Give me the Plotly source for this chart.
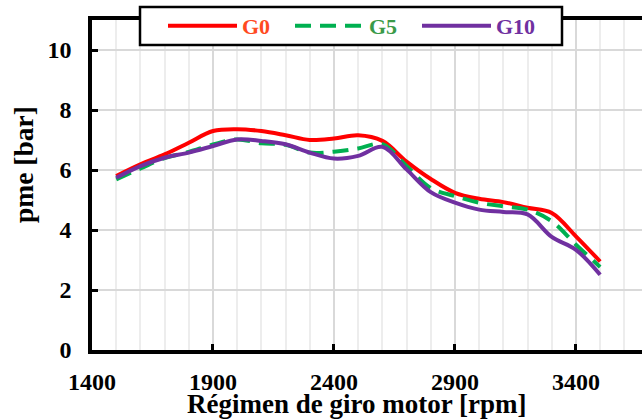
import plotly.graph_objects as go

rpm = [1500, 1600, 1700, 1800, 1900, 2000, 2100, 2200, 2300, 2400, 2500,
       2600, 2700, 2800, 2900, 3000, 3100, 3200, 3300, 3400, 3500]
g0 = [5.80, 6.19, 6.52, 6.91, 7.30, 7.36, 7.30, 7.16, 7.00, 7.05, 7.16,
      6.97, 6.28, 5.70, 5.24, 5.04, 4.93, 4.74, 4.57, 3.79, 2.95]
g5 = [5.69, 6.05, 6.40, 6.60, 6.85, 7.02, 6.89, 6.84, 6.58, 6.61, 6.72,
      6.86, 6.13, 5.40, 5.13, 4.91, 4.79, 4.68, 4.29, 3.51, 2.77]
g10 = [5.74, 6.13, 6.41, 6.58, 6.80, 7.02, 6.97, 6.86, 6.58, 6.38, 6.47,
       6.77, 6.02, 5.26, 4.91, 4.68, 4.60, 4.52, 3.77, 3.34, 2.51]

x_ticks = [1400, 1900, 2400, 2900, 3400]
y_ticks = [0, 2, 4, 6, 8, 10]

FONT = "Liberation Serif"
L, T, B = 92, 20, 350          # plot area pixel edges
PW, PH = 642 - L, B - T


def px(x):
    return (x - L) / PW


def py(y):
    return (B - y) / PH


fig = go.Figure()
series = [
    ("G0", g0, "#FF0000", "solid", "#FF4A1F"),
    ("G5", g5, "#00B050", "16px,9px", "#3A9A48"),
    ("G10", g10, "#7030A0", "solid", "#7030A0"),
]
for name, vals, col, dash, tcol in series:
    fig.add_trace(go.Scatter(
        x=rpm, y=vals, mode="lines",
        name=f"<span style='color:{tcol}'>{name}</span>",
        line=dict(color=col, width=4, dash=dash, shape="spline", smoothing=1.0),
    ))

fig.update_layout(
    width=642, height=420,
    margin=dict(l=L, r=0, t=T, b=420 - B, autoexpand=False),
    paper_bgcolor="white", plot_bgcolor="white",
    font=dict(family=FONT, size=24, color="black"),
    showlegend=True,
    legend=dict(
        orientation="h", x=px(163), xanchor="left",
        y=py(26), yanchor="middle",
        bgcolor="rgba(0,0,0,0)", borderwidth=0,
        font=dict(family=FONT, size=22, weight="bold"),
        itemwidth=69, entrywidth=43,
    ),
)
# legend frame
fig.add_shape(
    type="rect", xref="paper", yref="paper",
    x0=px(140), x1=px(562), y0=py(45), y1=py(7),
    line=dict(color="black", width=2.5), fillcolor="white", layer="above",
)
fig.update_xaxes(
    range=[1400, 3673], tickvals=x_ticks, automargin=False,
    ticks="inside", ticklen=6, tickwidth=3, tickcolor="black",
    showline=True, linecolor="black", linewidth=3.5, mirror=True,
    showgrid=True, gridcolor="#D9D9D9", gridwidth=1.5,
    minor=dict(dtick=100, tick0=1400, showgrid=True, gridcolor="#EDEDED", gridwidth=1.5),
    tickfont=dict(family=FONT, size=24, weight="bold"),
    ticklabelstandoff=7, zeroline=False,
)
fig.update_yaxes(
    range=[0, 11], tickvals=y_ticks, automargin=False,
    ticks="inside", ticklen=6, tickwidth=3, tickcolor="black",
    showline=True, linecolor="black", linewidth=3.5, mirror=False,
    showgrid=True, gridcolor="#D9D9D9", gridwidth=1.5,
    tickfont=dict(family=FONT, size=24, weight="bold"),
    ticklabelstandoff=12, zeroline=False,
)
fig.add_annotation(
    text="Régimen de giro motor [rpm]", xref="paper", yref="paper",
    x=px(356), y=py(404), xanchor="center", yanchor="middle",
    showarrow=False, font=dict(family=FONT, size=27, weight="bold"),
)
fig.add_annotation(
    text="pme [bar]", xref="paper", yref="paper",
    x=px(23), y=py(165), xanchor="center", yanchor="middle",
    textangle=-90, showarrow=False, font=dict(family=FONT, size=27.5, weight="bold"),
)

fig.write_html("out.html", config={"displayModeBar": False},
               post_script="document.body.style.margin='0';")
